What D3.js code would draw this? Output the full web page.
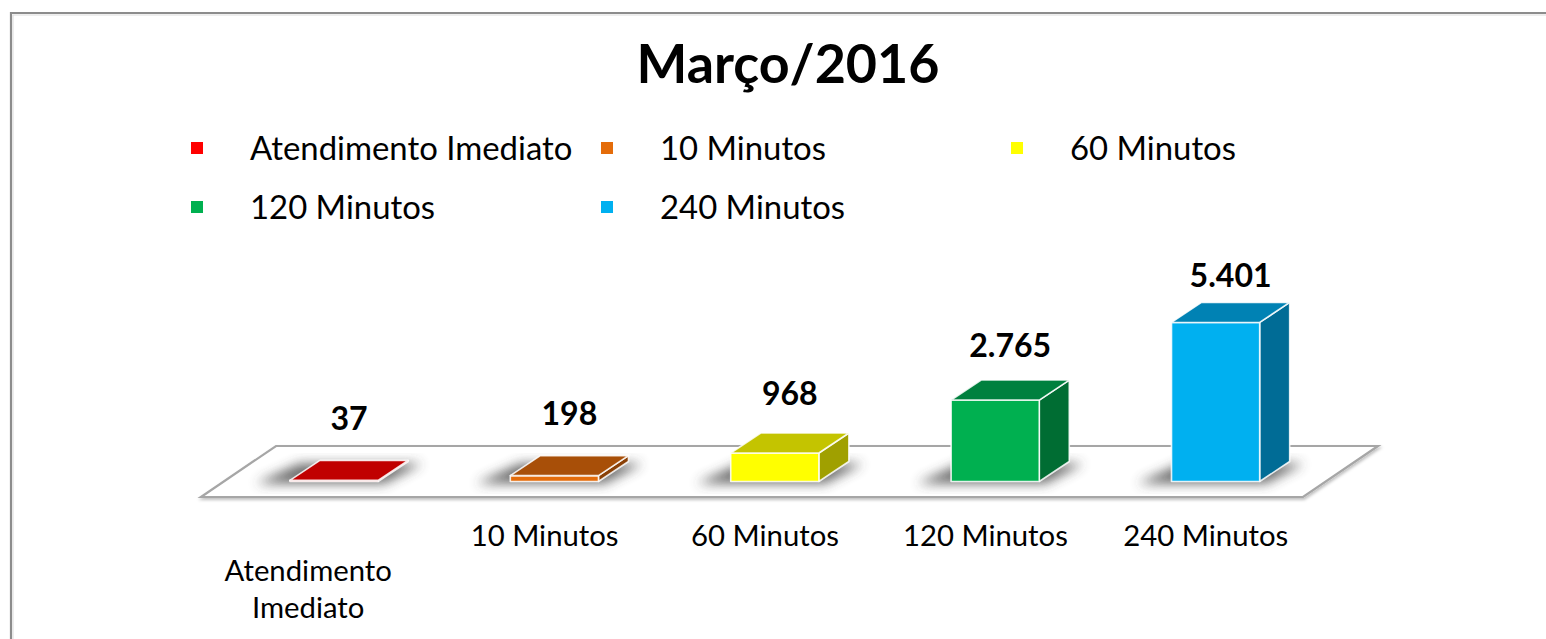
<!DOCTYPE html>
<html><head><meta charset="utf-8">
<script src="https://cdn.jsdelivr.net/npm/d3@7"></script>
<style>body{margin:0;background:#fff}svg{display:block}</style>
</head><body>
<svg id="c" width="1546" height="639"></svg>
<script>
const title = "Março/2016";
const categories = ["Atendimento Imediato","10 Minutos","60 Minutos","120 Minutos","240 Minutos"];
const values = [37,198,968,2765,5401];
const valueLabels = ["37","198","968","2.765","5.401"];
const colors = ["#ff0000","#e46c0a","#ffff00","#00b050","#00b0f0"];
const topColors = ["#c00000","#a84f08","#c4c400","#00803e","#0082b4"];
const sideColors = ["#a00000","#8a4006","#a0a000","#006d33","#006c96"];

const svg = d3.select("#c");
const FONT = "Lato, 'Open Sans', sans-serif";

function fitSize(text, weight, target){
  const t = svg.append("text").attr("font-family",FONT).attr("font-weight",weight)
    .attr("font-size",100).text(text);
  const w = t.node().getComputedTextLength(); t.remove();
  return 100*target/w;
}

// defs
const defs = svg.append("defs");
defs.append("filter").attr("id","blur").attr("x","-50%").attr("y","-50%").attr("width","200%").attr("height","200%")
  .append("feGaussianBlur").attr("stdDeviation",6);
const fl = defs.append("filter").attr("id","fshadow").attr("x","-5%").attr("y","-20%").attr("width","110%").attr("height","160%");
fl.append("feDropShadow").attr("dx",1).attr("dy",2).attr("stdDeviation",1.5).attr("flood-color","#000").attr("flood-opacity",0.25);

// outer frame
svg.append("path").attr("d","M11,639 L11,13 L1546,13").attr("fill","none")
  .attr("stroke","#8c8c8c").attr("stroke-width",2.2);
svg.append("path").attr("d","M13,639 L13,15 L1546,15").attr("fill","none")
  .attr("stroke","#dcdcdc").attr("stroke-width",1);

// title
svg.append("text").attr("x",788).attr("y",83).attr("text-anchor","middle")
  .attr("font-family",FONT).attr("font-weight","bold")
  .attr("font-size",fitSize(title,"bold",303)).attr("fill","#000").text(title);

// legend
const legSize = fitSize("10 Minutos","normal",166);
const legCols = [197,607,1017], legRows = [148,207];
const leg = svg.append("g").selectAll("g").data(categories).join("g")
  .attr("transform",(d,i)=>`translate(${legCols[i%3]},${legRows[Math.floor(i/3)]})`);
leg.append("rect").attr("x",-6).attr("y",-6).attr("width",12).attr("height",12)
  .attr("fill",(d,i)=>colors[i]);
leg.append("text").attr("x",53).attr("y",12).attr("font-family",FONT)
  .attr("font-size",legSize).attr("fill","#000").text(d=>d);

// scales
const floorFront = 497, floorBack = 446, floorDx = 75;
const x = d3.scaleBand().domain(categories).range([201,1303]).paddingInner(0.6).paddingOuter(0.3);
const y = d3.scaleLinear().domain([0,6000]).range([481.5, 481.5-176.7]);
const bdx = 30, bdy = 20;          // bar depth projection
const shift = (floorFront - y(0)) * floorDx/(floorFront-floorBack); // x shift of bar front vs floor front

// floor
const [fx0,fx1] = x.range();
svg.append("path").attr("d",`M${fx0},${floorFront} L${fx1},${floorFront} L${fx1+floorDx},${floorBack} L${fx0+floorDx},${floorBack} Z`)
  .attr("fill","#fff").attr("stroke","#a6a6a6").attr("stroke-width",2.2).attr("filter","url(#fshadow)");

const bw = x.bandwidth();
const bars = svg.append("g").selectAll("g").data(categories).join("g");

// shadows
bars.append("path").attr("d",(d)=>{
  const L = x(d)+shift, y0=y(0);
  return `M${L-34},${y0+2} L${L+bw+6},${y0+2} L${L+bw+bdx+14},${y0-bdy+2} L${L+bdx-20},${y0-bdy+2} Z`;
}).attr("fill","#3a3a3a").attr("opacity",0.75).attr("filter","url(#blur)");

// faces
const edge = {stroke:"#ffffff", w:1.6};
bars.each(function(d,i){
  const g = d3.select(this);
  const L = x(d)+shift, R = L+bw, y0 = y(0), yt = Math.min(y(values[i]), y0-1);
  // side
  g.append("path").attr("d",`M${R},${y0} L${R+bdx},${y0-bdy} L${R+bdx},${yt-bdy} L${R},${yt} Z`)
    .attr("fill",sideColors[i]).attr("stroke",edge.stroke).attr("stroke-width",edge.w).attr("stroke-opacity",0.85).attr("stroke-linejoin","round");
  // front
  g.append("path").attr("d",`M${L},${y0} L${R},${y0} L${R},${yt} L${L},${yt} Z`)
    .attr("fill",colors[i]).attr("stroke",edge.stroke).attr("stroke-width",edge.w).attr("stroke-opacity",0.85).attr("stroke-linejoin","round");
  // top
  g.append("path").attr("d",`M${L},${yt} L${R},${yt} L${R+bdx},${yt-bdy} L${L+bdx},${yt-bdy} Z`)
    .attr("fill",topColors[i]).attr("stroke",edge.stroke).attr("stroke-width",edge.w).attr("stroke-opacity",0.85).attr("stroke-linejoin","round");
});

// data labels
const dlSize = fitSize("2.765","bold",82);
bars.append("text").attr("text-anchor","middle")
  .attr("x",d=>x(d)+shift+bw/2+bdx/2)
  .attr("y",(d,i)=>{const h = y(0)-y(values[i]); return y(0)-51-0.9*h;})
  .attr("font-family",FONT).attr("font-weight","bold").attr("font-size",dlSize).attr("fill","#000")
  .text((d,i)=>valueLabels[i]);

// category axis labels
const axSize = fitSize("10 Minutos","normal",148);
const ax = svg.append("g").attr("font-family",FONT).attr("font-size",axSize).attr("fill","#000");
categories.forEach((c,i)=>{
  const cx = x(c)+bw/2;
  if (c.length > 12){
    const words = c.split(" ");
    words.forEach((w,k)=>{
      ax.append("text").attr("x",cx-3).attr("y",581+k*37).attr("text-anchor","middle").text(w);
    });
  } else {
    ax.append("text").attr("x",cx+13).attr("y",546).attr("text-anchor","middle").text(c);
  }
});
</script>
</body></html>
